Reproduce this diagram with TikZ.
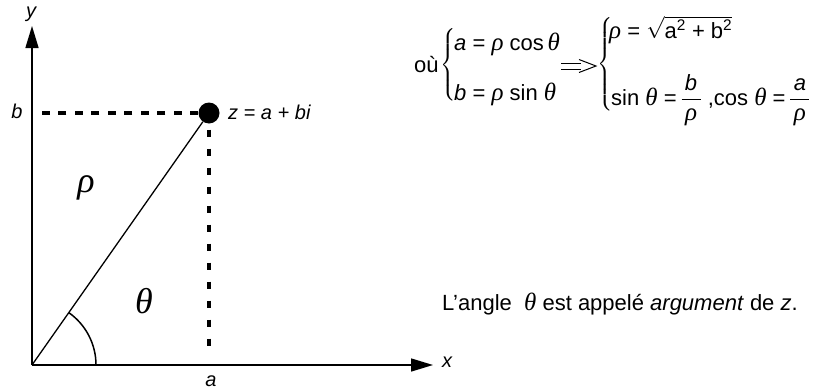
\RequirePackage{fix-cm}
\documentclass[tikz,border=0pt]{standalone}
\usepackage{amsmath}
\usepackage{fontspec}
\setmainfont{Liberation Sans}
\newfontfamily\grfont{Liberation Serif}
\newcommand{\gk}[1]{{\grfont\itshape\fontsize{25}{26}\selectfont #1}}
\newcommand{\bracebox}[1]{$\left\{\vcenter{\hrule height #1 width 0pt depth 0pt}\right.$}
\newcommand{\fr}[2]{\dfrac{\hbox to 19pt{\hss#1\hss}}{\hbox to 19pt{\hss#2\hss}}}
\usetikzlibrary{arrows.meta}
\begin{document}
\begin{tikzpicture}[x=1pt,y=-1pt,
  axis/.style={line width=1.5pt,-{Triangle[length=22pt,width=13pt]}},
  hdash/.style={line width=3.5pt,dash pattern=on 8pt off 8.5pt},
  vdash/.style={line width=3.5pt,dash pattern=on 7.5pt off 11.5pt},
  lbl/.style={font=\fontsize{20}{24}\selectfont\itshape,inner sep=0pt},
  big/.style={font=\fontsize{36}{36}\selectfont,inner sep=0pt},
  txt/.style={font=\fontsize{22}{26}\selectfont,inner sep=0pt},
  brc/.style={font=\fontsize{18}{20}\selectfont,inner sep=0pt,anchor=east}]
\useasboundingbox (0,0) rectangle (816,391);
% axes
\coordinate (O) at (32,365);
\coordinate (X) at (433,365);
\coordinate (Y) at (32,26);
\node[circle,fill=black,inner sep=0pt,minimum size=21pt] (Z) at (209,113) {};
\coordinate (B) at (35,113);
\coordinate (A) at (209,347);
\draw[axis] (O) -- (X);
\draw[axis] (O) -- (Y);
\draw[line width=1.3pt] (O) -- (Z);
\draw[hdash] (Z.west) -- (B);
\draw[vdash] ([yshift=-6pt]Z.south) -- (A);
\draw[line width=1.5pt] ([xshift=64pt]O) arc[start angle=0,end angle=-54.9,radius=64];
% labels
\node[lbl] (ly) at (31,14) {y};
\node[lbl] (lb) at (17,111) {b};
\node[lbl,anchor=west] (lz) at (228,112) {z = a + bi};
\node[lbl] (lx) at (447,362) {x};
\node[lbl] (la) at (211,381) {a};
\node[big] (rho) at (86,188) {\gk{\fontsize{36}{36}\selectfont ρ}};
\node[big] (th) at (144,301) {\gk{\fontsize{36}{36}\selectfont θ}};
% formulas
\node[txt,anchor=base west] (ou) at (414,72) {où};
\node[brc] (br1) at (457,65) {\bracebox{70pt}};
\node[txt,anchor=base west] (s1a) at (454,50) {\itshape a\upshape{} = \gk{ρ} cos\,\gk{θ}};
\node[txt,anchor=base west] (s1b) at (454,100) {\itshape b\upshape{} = \gk{ρ} sin \gk{θ}};
\draw[line width=1pt] (561,63) -- (581,63) (561,69) -- (581,69);
\draw[line width=1pt] (579,59.5) -- (596,66) -- (579,72.5);
\node[brc] (br2) at (614,64) {\bracebox{88pt}};
\node[txt,anchor=base west] (s2a) at (609,38) {\gk{ρ} = $\sqrt{\mbox{a\textsuperscript{2} + b\textsuperscript{2}}}$};
\node[txt,anchor=base west] (s2b) at (611,105) {sin \gk{θ} =$\,\fr{\itshape b}{\gk{ρ}}$\ ,cos \gk{θ} =$\,\fr{\itshape a}{\gk{ρ}}$};
\node[txt,anchor=base west] (arg) at (442,310) {L’angle \ \gk{θ} est appelé \textit{argument} de \textit{z}.};
\end{tikzpicture}
\end{document}
